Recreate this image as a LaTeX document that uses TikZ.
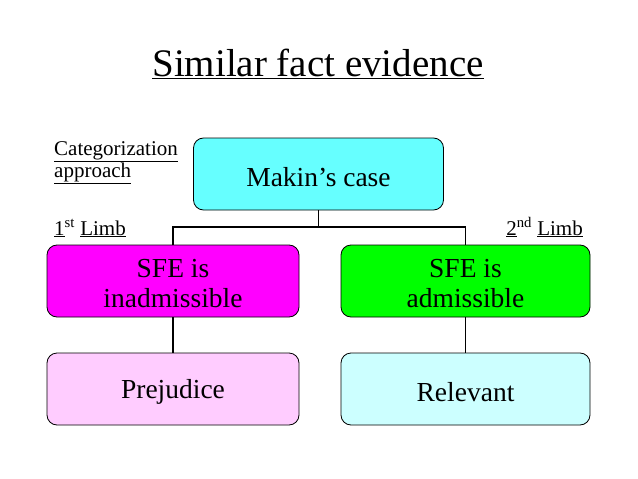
\documentclass[tikz,border=0pt]{standalone}
\usepackage{fontspec}
\setmainfont{Liberation Serif}
\definecolor{cyanA}{RGB}{102,255,255}
\definecolor{magA}{RGB}{255,0,255}
\definecolor{greenA}{RGB}{0,255,0}
\definecolor{pinkA}{RGB}{255,204,255}
\definecolor{cyanB}{RGB}{204,255,255}
\begin{document}
\begin{tikzpicture}[x=1pt,y=-1pt,
  box/.style={draw=black,line width=0.8pt,rounded corners=10pt,minimum width=250pt,minimum height=72pt,inner sep=0pt},
  boxtext/.style={align=center,font=\fontsize{27.5}{30.5}\selectfont,inner sep=0pt},
  conn/.style={draw=black,line width=1.8pt},
  lbl/.style={font=\fontsize{21}{22}\selectfont,inner sep=0pt,align=left}]
\useasboundingbox (0,0) rectangle (638,479);
\node[anchor=base,font=\fontsize{39}{44}\selectfont,inner sep=0pt] (title) at (318,76) {\underline{Similar fact evidence}};
\node[box,fill=cyanA] (makin) at (318.5,174) {};
\node[box,fill=magA,minimum width=252pt] (inad) at (173,281) {};
\node[box,fill=greenA,minimum width=249pt] (adm) at (465.5,281) {};
\node[box,fill=pinkA,minimum width=252pt] (prej) at (173,389) {};
\node[box,fill=cyanB,minimum width=249pt] (rel) at (465.5,389) {};
\node[boxtext] (makinT) at ([yshift=-3pt]makin.center) {Makin’s case};
\node[boxtext] (inadT) at ([yshift=-2.5pt]inad.center) {SFE is\\inadmissible};
\node[boxtext] (admT) at ([yshift=-2.5pt]adm.center) {SFE is\\admissible};
\node[boxtext] (prejT) at ([yshift=-3pt]prej.center) {Prejudice};
\node[boxtext] (relT) at ([yshift=-3pt]rel.center) {Relevant};
\coordinate (j) at (318.5,227);
\draw[conn] (makin.south) -- (j);
\draw[conn] (j) -| (inad.north);
\draw[conn] (j) -| (adm.north);
\draw[conn] (inad.south) -- (prej.north);
\draw[conn] (adm.south) -- (rel.north);
\node[lbl,anchor=base west] (cat) at (54,155) {\underline{Categorization}};
\node[lbl,anchor=base west] (app) at (54,177) {\underline{approach}};
\node[lbl,anchor=base west] (l1) at (54,235) {\underline{1}\textsuperscript{st} \underline{Limb}};
\node[lbl,anchor=base east] (l2) at (583,235) {\underline{2}\textsuperscript{nd} \underline{Limb}};
\end{tikzpicture}
\end{document}
